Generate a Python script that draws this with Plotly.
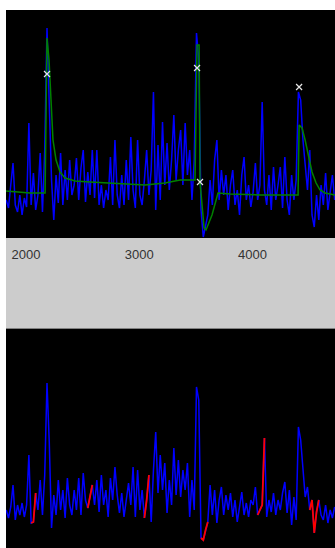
import plotly.graph_objects as go

# ---- data ----
t_start = 1825
t_step = 20

raw_top = [0, -8, 15, 37, -5, -12, 5, -15, 2, -7,
           77, -5, 27, -10, 5, 47, -12, 50, 172, 105,
           20, -20, 25, -3, 47, -5, 30, 0, 40, 5,
           15, 42, 0, 32, 50, -2, 28, 5, 50, 2,
           50, -5, 15, -8, 10, 0, 43, -5, 60, 5,
           -8, 25, -5, 40, 0, 63, 10, -8, 60, 5,
           -5, 20, 50, 5, 30, 108, -10, 55, 0, 78,
           15, 57, 10, 40, 85, 20, 50, 70, 15, 77,
           25, 50, 0, 40, 167, 140, -10, -37, -25, -15,
           20, -5, 40, 60, 0, 30, 5, 25, -10, 15,
           30, -5, 10, -15, 25, 43, 0, 15, -7, 8,
           37, 0, 15, 98, 10, -5, 25, -10, 33, 0,
           15, 33, -8, 43, 0, -15, 25, 0, 20, 108,
           100, 60, 35, 10, 50, -15, -27, 5, -20, 15,
           -5, 27, -10, 10, 25, 0]

envelope_t = [1823, 1947, 2035, 2168, 2185, 2203, 2221, 2238, 2265, 2300, 2344, 2433,
              2565, 2742, 2918, 3051, 3139, 3227, 3360, 3492, 3510, 3528, 3536, 3554,
              3572, 3589, 3642, 3695, 3801, 4066, 4402, 4411, 4437, 4464, 4490, 4525,
              4561, 4596, 4640, 4728]
envelope_v = [9, 8, 7, 7, 162, 140, 90, 60, 40, 28, 22, 19,
              18, 17, 16, 15, 16, 17, 20, 20, 155, 155, 18, -10,
              -28, -30, -15, 7, 6, 5, 5, 75, 72, 60, 45, 28,
              17, 10, 7, 5]

peak_t = [2185, 3510, 3536, 4411]
peak_v = [126, 132, 18, 113]

filtered = [10, 2, 13, 35, 0, 15, 5, 17, 3, 15,
            65, -3, -2, 27, 10, 40, 5, 45, 137, 78,
            -8, 25, 5, 40, 10, 30, 2, 42, 15, 5,
            30, 10, 42, 5, 47, 20, 12, 25, 35, 15,
            40, 8, 45, 15, 30, 3, 42, 20, 53, 25,
            7, 27, 3, 20, 37, 15, 53, 3, 50, 10,
            30, 2, 20, 45, -2, 50, 88, 27, 65, 30,
            57, 7, 40, 15, 72, 25, 60, 23, 50, 30,
            57, 3, 40, 10, 133, 120, -18, -20, -10, -2,
            35, 5, 30, -3, 20, 33, 5, 25, 10, 27,
            3, 20, -2, 15, 28, 5, 17, 3, 20, 15,
            33, 5, 10, 15, 82, 3, 20, 8, 27, 5,
            20, 10, 27, 38, 7, 30, -5, 23, 0, 93,
            80, 50, 23, 33, 10, 20, -13, 8, 20, 5,
            0, 15, -3, 10, 2, 13]

red_segments = [(11, 13), (36, 38), (61, 63), (86, 89), (111, 114), (134, 138)]

tick_vals = [2000, 3000, 4000]
tick_text = ["2000", "3000", "4000"]

# ---- build ----
t_top = [t_start + i * t_step for i in range(len(raw_top))]
t_bot = [t_start + i * t_step for i in range(len(filtered))]
red_v = [None] * len(filtered)
for a, b in red_segments:
    for i in range(a, b + 1):
        red_v[i] = filtered[i]

W, H = 335, 548
ML, MT = 6, 10
PH = H - MT


def py(p):
    return (H - p) / PH


fig = go.Figure()
fig.add_trace(go.Scatter(x=t_top, y=raw_top, mode="lines",
                         line=dict(color="rgb(0,0,255)", width=1.5),
                         xaxis="x", yaxis="y", hoverinfo="skip"))
fig.add_trace(go.Scatter(x=envelope_t, y=envelope_v, mode="lines",
                         line=dict(color="rgb(0,128,0)", width=1.5),
                         xaxis="x", yaxis="y", hoverinfo="skip"))
fig.add_trace(go.Scatter(x=peak_t, y=peak_v, mode="markers",
                         marker=dict(symbol="x-thin", size=6,
                                     line=dict(color="#e6e6e6", width=1.2)),
                         xaxis="x", yaxis="y", hoverinfo="skip"))
fig.add_trace(go.Scatter(x=t_bot, y=filtered, mode="lines",
                         line=dict(color="rgb(0,0,255)", width=1.5),
                         xaxis="x2", yaxis="y2", hoverinfo="skip"))
fig.add_trace(go.Scatter(x=t_bot, y=red_v, mode="lines",
                         line=dict(color="rgb(255,0,0)", width=1.8),
                         connectgaps=False,
                         xaxis="x2", yaxis="y2", hoverinfo="skip"))

xr = [1823, 4728]
fig.update_layout(
    width=W, height=H, showlegend=False,
    margin=dict(l=ML, r=0, t=MT, b=0, pad=0),
    paper_bgcolor="white", plot_bgcolor="black",
    xaxis=dict(domain=[0, 1], range=xr, anchor="y", showgrid=False, zeroline=False,
               tickvals=tick_vals, ticktext=tick_text, ticks="outside", ticklen=4,
               tickcolor="rgba(0,0,0,0)", showline=False,
               tickfont=dict(family="Liberation Sans, Arial", size=13, color="#333333")),
    yaxis=dict(domain=[py(238), 1], range=[-38, 190], anchor="x", showgrid=False,
               zeroline=False, showticklabels=False),
    xaxis2=dict(domain=[0, 1], range=xr, anchor="y2", showgrid=False, zeroline=False,
                showticklabels=False),
    yaxis2=dict(domain=[0, py(329)], range=[-28, 191], anchor="x2", showgrid=False,
                zeroline=False, showticklabels=False),
    shapes=[
        dict(type="rect", xref="paper", yref="paper", x0=0, x1=1, y0=py(329), y1=py(238),
             fillcolor="#cccccc", line=dict(width=0), layer="below"),
        dict(type="line", xref="paper", yref="paper", x0=0, x1=1, y0=py(328.5), y1=py(328.5),
             line=dict(color="#808080", width=1)),
    ],
)

fig.write_html("out.html")
